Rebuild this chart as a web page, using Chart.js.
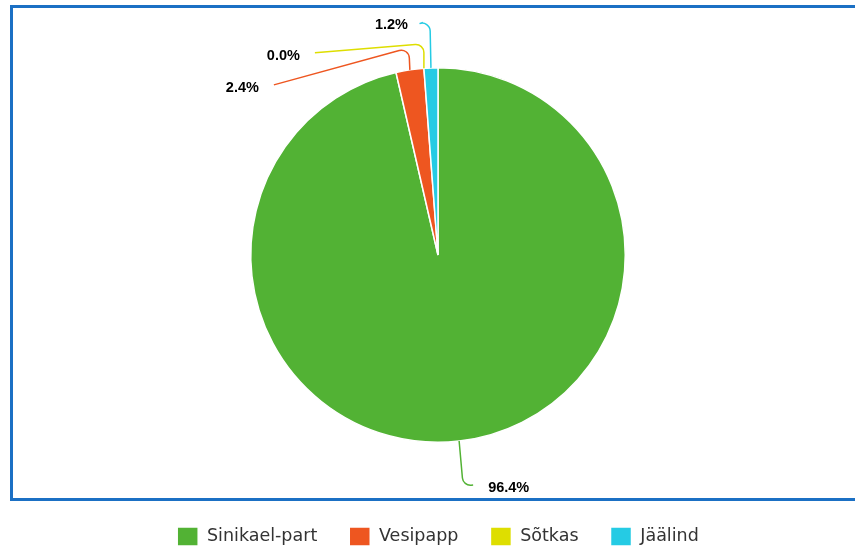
<!DOCTYPE html>
<html>
<head>
<meta charset="utf-8">
<script src="https://cdn.jsdelivr.net/npm/chart.js@4.4.0/dist/chart.umd.min.js"></script>
<style>
html,body{margin:0;padding:0;background:#fff;overflow:hidden}
</style>
</head>
<body>
<canvas id="chart" width="855" height="548"></canvas>
<script>
// andmed
const species = ["Sinikael-part", "Vesipapp", "Sõtkas", "Jäälind"];
const shares = [96.4, 2.4, 0.0, 1.2];
const sliceColors = ["#52b234", "#ee5620", "#dede00", "#25cbe4"];

// joonte kuju (nihe lõigu servast): murdepunkt ja lõpp
const leaderBends = [[4, 45], [-1, -22], [0, -24.5], [-1, -48]];
const leaderEnds = [[14, 44], [-136, 15], [-109, -15.5], [-8, -45.5]];

// sinine raam
const frame = {
  id: "frame",
  beforeDraw(chart) {
    const c = chart.ctx;
    c.save();
    c.strokeStyle = "#1b70c4";
    c.lineWidth = 3;
    c.strokeRect(11.5, 6.5, 900, 493);
    c.restore();
  }
};

// protsendid koos joontega
const leaderLabels = {
  id: "leaderLabels",
  afterDatasetsDraw(chart) {
    const ctx = chart.ctx;
    const meta = chart.getDatasetMeta(0);
    meta.data.forEach((arc, i) => {
      const p = arc.getProps(["x", "y", "startAngle", "endAngle", "outerRadius"], true);
      const mid = (p.startAngle + p.endAngle) / 2;
      const x0 = p.x + Math.cos(mid) * p.outerRadius;
      const y0 = p.y + Math.sin(mid) * p.outerRadius;
      const bx = x0 + leaderBends[i][0], by = y0 + leaderBends[i][1];
      const ex = x0 + leaderEnds[i][0], ey = y0 + leaderEnds[i][1];
      ctx.save();
      ctx.strokeStyle = sliceColors[i];
      ctx.lineWidth = 1.5;
      ctx.beginPath();
      ctx.moveTo(x0, y0);
      ctx.arcTo(bx, by, ex, ey, 8);
      ctx.lineTo(ex, ey);
      ctx.stroke();
      const right = ex >= bx;
      ctx.fillStyle = "#000";
      ctx.font = "bold 14.5px 'Liberation Sans', Arial, sans-serif";
      ctx.textAlign = right ? "left" : "right";
      ctx.textBaseline = "middle";
      ctx.fillText(shares[i].toFixed(1) + "%", ex + (right ? 15 : -15), ey + 3);
      ctx.restore();
    });
  }
};

// legend allapoole
const legendShift = {
  id: "legendShift",
  afterLayout(chart) {
    const lg = chart.legend;
    const d = 495 - lg.top;
    lg.top += d;
    lg.bottom += d;
  }
};

new Chart(document.getElementById("chart"), {
  type: "pie",
  data: {
    labels: species,
    datasets: [{
      data: shares,
      backgroundColor: sliceColors,
      borderColor: "#fff",
      borderWidth: 1.5,
      hoverOffset: 0
    }]
  },
  options: {
    responsive: false,
    animation: false,
    layout: { padding: { top: 67, left: 21, right: 0, bottom: 44 } },
    plugins: {
      tooltip: { enabled: false },
      legend: {
        position: "bottom",
        labels: {
          boxWidth: 21,
          boxHeight: 19,
          padding: 32,
          color: "#333",
          font: { family: "'DejaVu Sans', sans-serif", size: 17.5 }
        }
      }
    }
  },
  plugins: [frame, leaderLabels, legendShift]
});
</script>
</body>
</html>
